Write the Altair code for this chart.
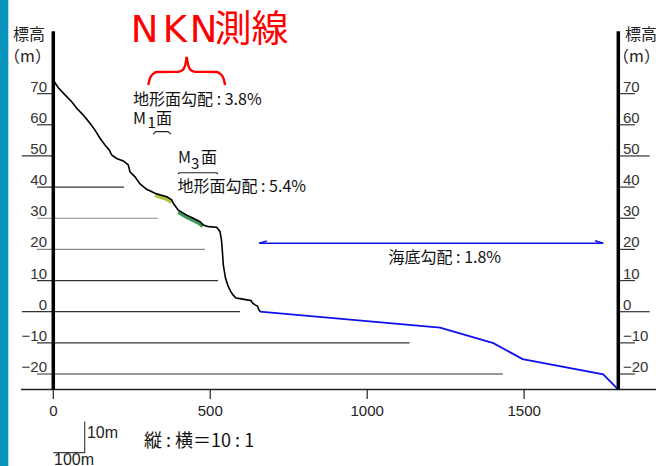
import altair as alt
import pandas as pd

# Scales: horizontal distance (m) and elevation (m)
X_DOMAIN = [-169.8, 1920.1]
Y_DOMAIN = [-49.53, 100.06]

# Land profile along the NKN line (distance m, elevation m)
profile_x = [0, 15.9, 37.3, 58.6, 74.5, 95.6, 116.9, 132.8, 148.8, 164.7, 178.4, 186.1,
             202.0, 223.0, 238.9, 244.3, 260.3, 276.2, 297.6, 324.0, 339.9, 361.3, 377.2,
             382.3, 398.2, 425.0, 446.0, 467.4, 477.9, 493.8, 520.6, 531.1, 535.8, 538.4,
             541.6, 548.6, 556.6, 564.5, 572.5, 582.0, 594.8, 617.1, 629.8, 634.6, 642.6,
             650.5, 653.7, 658.5]
profile_y = [74.3, 71.9, 69.6, 67.4, 65.3, 63.1, 60.5, 58.3, 55.7, 53.5, 51.9, 50.3,
             49.2, 48.4, 47.1, 44.9, 43.3, 41.0, 39.3, 38.0, 37.5, 36.9, 35.9,
             34.8, 32.6, 31.0, 30.0, 28.9, 27.8, 27.3, 27.1, 25.7, 23.0, 19.8,
             15.0, 10.8, 8.3, 6.6, 5.4, 4.4, 4.2, 3.8, 3.6, 2.8, 2.2,
             1.8, 0.9, 0]

# Sea floor
sea_x = [658.5, 1232, 1402, 1495, 1752, 1800]
sea_y = [0, -5.1, -10.1, -15.2, -20.1, -25]

# Terrace surfaces (M1: light green, M3: dark green)
m1_x = [324, 340, 361, 377]
m1_y = [37.4, 36.9, 36.2, 35.2]
m3_x = [398, 425, 446, 467, 476]
m3_y = [32.0, 30.4, 29.4, 28.3, 27.4]

# Elevation reference lines
levels = [70, 60, 50, 40, 30, 20, 10, 0, -10, -20]
level_text = ["70", "60", "50", "40", "30", "20", "10", "0", "\u221210", "\u221220"]
left_start = [-52, -52, -100, -52, -52, -52, -52, -100, -52, -52]
left_end = [0, 0, 0, 225, 333, 483, 525, 595, 1135, 1432]
right_end = [1853, 1853, 1900, 1853, 1853, 1853, 1853, 1900, 1853, 1853]
level_color = ["#333", "#333", "#333", "#333", "#888", "#888", "#333", "#333", "#333", "#333"]

# Distance axis
dist_ticks = [0, 500, 1000, 1500]
dist_text = ["0", "500", "1000", "1500"]

X = alt.Scale(domain=X_DOMAIN, nice=False, zero=False)
Y = alt.Scale(domain=Y_DOMAIN, nice=False, zero=False)


def xq(f):
    return alt.X(f"{f}:Q", scale=X, axis=None)


def yq(f):
    return alt.Y(f"{f}:Q", scale=Y, axis=None)


def path(xs, ys, part=0):
    return pd.DataFrame({"x": xs, "y": ys, "i": list(range(len(xs))), "p": part})


def line(df, color, width, interp="linear"):
    return alt.Chart(df).mark_line(color=color, strokeWidth=width, interpolate=interp).encode(
        x=xq("x"), y=yq("y"), order="i:Q", detail="p:N")


def hrules(df, color_field=None, color="#333", width=1.2):
    enc = dict(x=xq("x0"), x2="x1:Q", y=yq("y"))
    if color_field:
        enc["color"] = alt.Color(f"{color_field}:N", scale=None)
    return alt.Chart(df).mark_rule(color=color, strokeWidth=width).encode(**enc)


def texts(df, **mark):
    return alt.Chart(df).mark_text(**mark).encode(x=xq("x"), y=yq("y"), text="t:N")


CJK = "Noto Sans CJK JP"
LAT = "Liberation Sans"

# side stripe
stripe = alt.Chart(pd.DataFrame({"x0": [X_DOMAIN[0]], "x1": [-143.3],
                                 "y0": [Y_DOMAIN[0]], "y1": [Y_DOMAIN[1]]})).mark_rect(
    color="#0893bd").encode(x=xq("x0"), x2="x1:Q", y=yq("y0"), y2="y1:Q")

# reference lines, left side and right side
grid_left = hrules(pd.DataFrame({"x0": left_start, "x1": left_end, "y": levels, "c": level_color}),
                   color_field="c", width=1.2)
grid_right = hrules(pd.DataFrame({"x0": [1800] * len(levels), "x1": right_end, "y": levels}),
                    color="#333", width=1.2)
baseline = hrules(pd.DataFrame({"x0": [-103], "x1": [1922], "y": [-25]}), color="#222", width=1.5)

# elevation axes
axes_v = alt.Chart(pd.DataFrame({"x": [0, 1800], "y0": [-25, -25], "y1": [90, 90]})).mark_rule(
    color="#000", strokeWidth=3.5).encode(x=xq("x"), y=yq("y0"), y2="y1:Q")
ticks_x = alt.Chart(pd.DataFrame({"x": dist_ticks, "y0": [-25] * 4, "y1": [-28] * 4})).mark_rule(
    color="#222", strokeWidth=1.2).encode(x=xq("x"), y=yq("y0"), y2="y1:Q")

lab_left = texts(pd.DataFrame({"x": [-20.1] * len(levels), "y": levels, "t": level_text}),
                 align="right", baseline="alphabetic", dy=-2, font=LAT, fontSize=15, color="#333")
lab_right = texts(pd.DataFrame({"x": [1815] * len(levels), "y": levels, "t": level_text}),
                  align="left", baseline="alphabetic", dy=-2, font=LAT, fontSize=15, color="#333")
lab_dist = texts(pd.DataFrame({"x": dist_ticks, "y": [-31.9] * 4, "t": dist_text}),
                 align="center", baseline="middle", font=LAT, fontSize=15, color="#222")

axis_titles = texts(pd.DataFrame({"x": [-77.4, -82.2, 1872.3, 1858.0],
                                  "y": [88.8, 81.9, 88.8, 81.9],
                                  "t": ["標高", "（m）", "標高", "（m）"]}),
                    align="center", baseline="middle", font=CJK, fontSize=16, color="#222")

# terrain and sea floor
m1 = line(path(m1_x, m1_y), "#a8c83c", 4)
m3 = line(path(m3_x, m3_y), "#3a9a55", 4)
land = line(path(profile_x, profile_y), "#000", 1.6)
sea = line(path(sea_x, sea_y), "#1010ee", 1.8)

# sea-floor gradient arrow
arrow = line(pd.concat([
    path([656, 1752], [22.0, 22.0], 0),
    path([656, 680], [22.0, 22.7], 1),
    path([1752, 1726], [22.0, 22.8], 2),
]), "#1010ee", 1.5)

# brace under the title
brace = line(pd.concat([
    path([302.7, 308.1, 317.6, 330.4, 397.3, 410.0, 419.6, 425.0],
         [72.8, 75.0, 76.3, 76.95, 77.0, 77.4, 78.9, 81.8], 0),
    path([425.0, 430.4, 440.0, 452.7, 519.6, 532.4, 541.9, 547.3],
         [81.8, 78.9, 77.4, 77.0, 76.95, 76.3, 75.0, 72.8], 1),
]), "#ff0000", 2.4, "monotone")

# small markers under the surface names
marks = line(pd.concat([
    path([317.6, 327.0, 365.0, 375.0], [57.0, 57.8, 57.8, 57.0], 0),
    path([397.3, 402.0, 520.0, 524.7], [44.2, 44.6, 44.6, 44.2], 1),
]), "#222", 1.2)

# title: wide-set letters followed by the kanji
title_latin = texts(pd.DataFrame({"x": [290.5, 387.7, 478.5], "y": [86.7] * 3,
                                  "t": ["N", "K", "N"]}),
                    align="center", baseline="alphabetic", font="DejaVu Sans", fontSize=37,
                    color="#ff0000")
title_kanji = texts(pd.DataFrame({"x": [631.4], "y": [86.7], "t": ["測線"]}),
                    align="center", baseline="alphabetic", font=CJK, fontSize=37, color="#ff0000")

notes = texts(pd.DataFrame({
    "x": [254.2, 254.2, 327.5, 395.7, 397.3, 470.5, 1068.0],
    "y": [67.8, 62.0, 62.0, 40.0, 49.2, 49.2, 17.4],
    "t": ["地形面勾配 : 3.8%", "M", "面", "地形面勾配 : 5.4%", "M", "面", "海底勾配 : 1.8%"],
}), align="left", baseline="middle", font=CJK, fontSize=16, color="#111")
subs = texts(pd.DataFrame({"x": [300.0, 439.0], "y": [60.6, 47.4], "t": ["1", "3"]}),
             align="left", baseline="middle", font=CJK, fontSize=15, color="#111")
ratio = texts(pd.DataFrame({"x": [289.0], "y": [-41.7], "t": ["縦 : 横＝10 : 1"]}),
              align="left", baseline="middle", font=CJK, fontSize=18, color="#111")

# scale bar
scalebar = line(path([0, 100, 100], [-45.25, -45.25, -35.25]), "#444", 1.2)
scale_txt = texts(pd.DataFrame({"x": [107], "y": [-38.8], "t": ["10m"]}),
                  align="left", baseline="middle", font=LAT, fontSize=16, color="#222")
scale_txt2 = texts(pd.DataFrame({"x": [2.2], "y": [-49.36], "t": ["100m"]}),
                   align="left", baseline="alphabetic", font=LAT, fontSize=16, color="#222")

chart = alt.layer(
    stripe, grid_left, grid_right, baseline, ticks_x, m1, m3, land, sea, axes_v,
    arrow, brace, marks, lab_left, lab_right, lab_dist, axis_titles, title_latin, title_kanji,
    notes, subs, ratio, scalebar, scale_txt, scale_txt2,
).properties(
    width=656, height=466, padding=0, autosize=alt.AutoSizeParams(type="none"),
    background="white",
).configure_view(stroke=None)

chart.save("out.html", embed_options={"renderer": "svg", "actions": False})
